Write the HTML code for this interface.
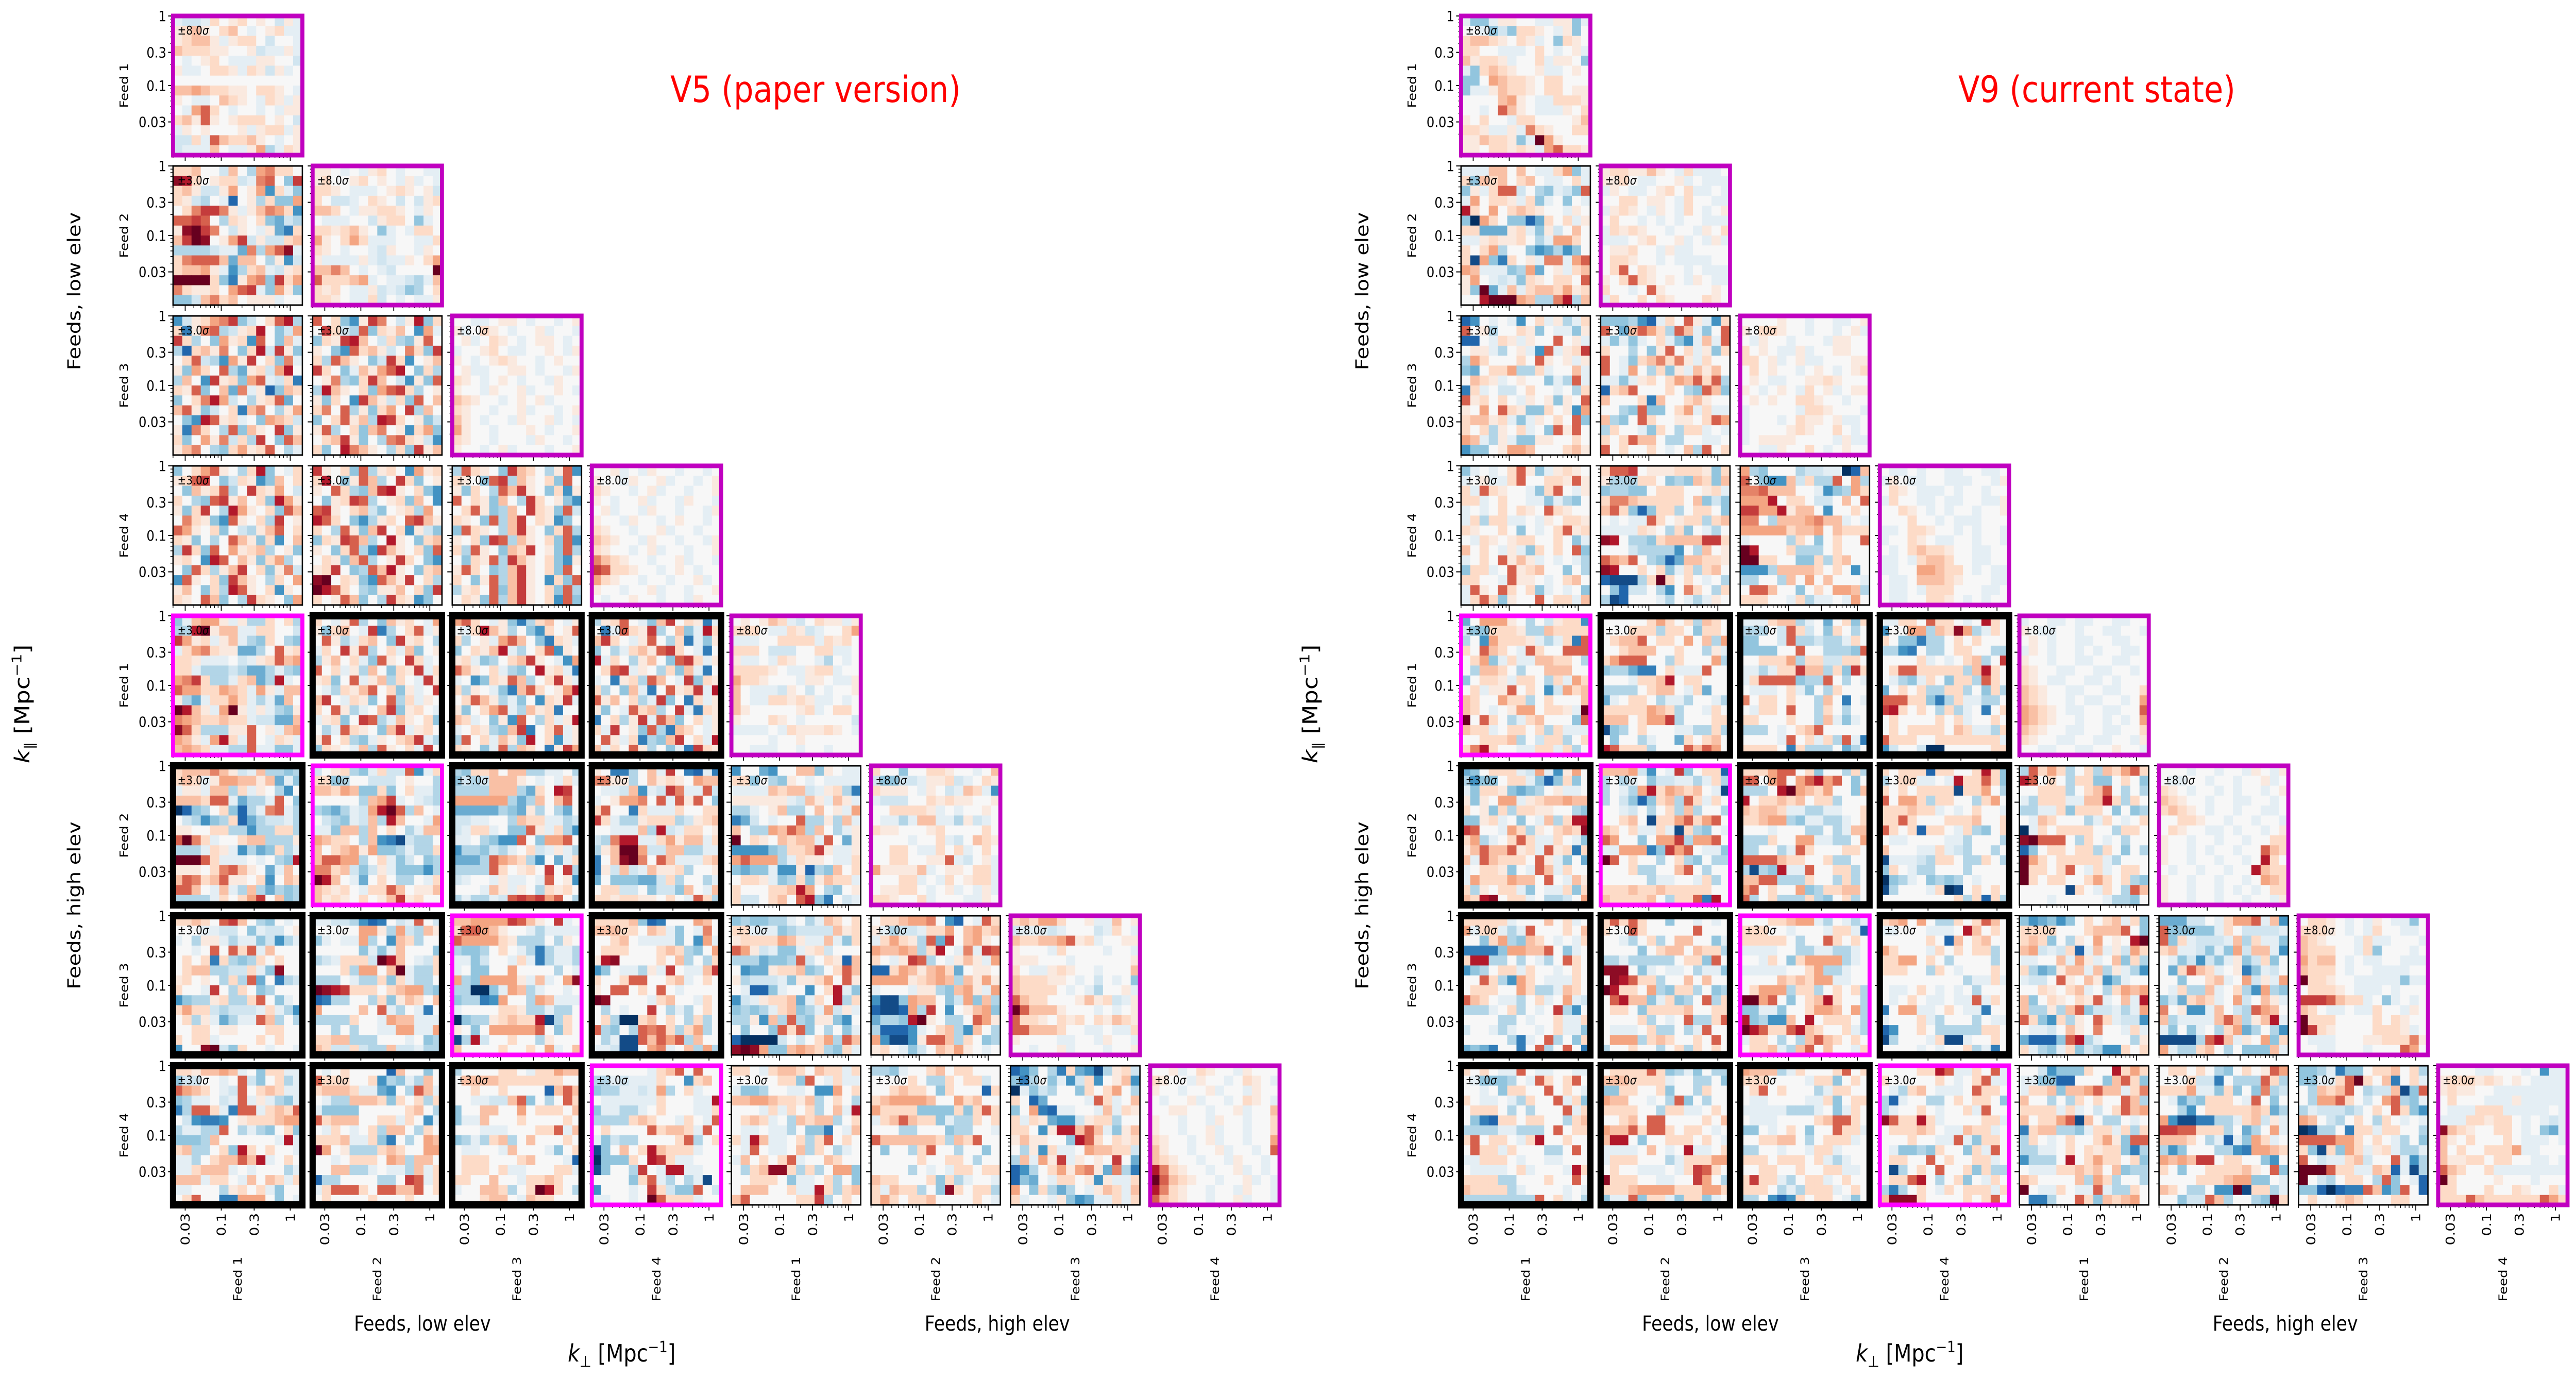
<!DOCTYPE html>
<html>
<head>
<meta charset="utf-8">
<style>
  html, body { margin: 0; padding: 0; background: #ffffff; width: 100%; height: 100%; overflow: hidden; }
  svg { display: block; width: 100vw; height: 100vh; font-family: "DejaVu Sans", "Liberation Sans", sans-serif; }
</style>
</head>
<body>
<svg id="chart" xmlns="http://www.w3.org/2000/svg" viewBox="0 0 5776 2672" preserveAspectRatio="none">
  <rect x="0" y="0" width="5776" height="2672" fill="#ffffff"/>
  <g id="grids"></g>

  <text x="1503" y="198" font-size="70" fill="#ff0000">V5 (paper version)</text>
  <text x="4391" y="198" font-size="70" fill="#ff0000">V9 (current state)</text>

  <text transform="translate(180,565) rotate(-90)" text-anchor="middle" font-size="40">Feeds, low elev</text>
  <text transform="translate(180,1757) rotate(-90)" text-anchor="middle" font-size="40">Feeds, high elev</text>
  <text transform="translate(66,1366) rotate(-90)" text-anchor="middle" font-size="46"><tspan font-style="italic">k</tspan><tspan font-size="30" dy="10">∥</tspan><tspan dy="-10"> [Mpc</tspan><tspan font-size="30" dy="-18">−1</tspan><tspan dy="18">]</tspan></text>
  <text x="947" y="2582" text-anchor="middle" font-size="40">Feeds, low elev</text>
  <text x="2236" y="2582" text-anchor="middle" font-size="40">Feeds, high elev</text>
  <text x="1394" y="2642" text-anchor="middle" font-size="46"><tspan font-style="italic">k</tspan><tspan font-size="30" dy="10">⊥</tspan><tspan dy="-10"> [Mpc</tspan><tspan font-size="30" dy="-18">−1</tspan><tspan dy="18">]</tspan></text>

  <text transform="translate(3068,565) rotate(-90)" text-anchor="middle" font-size="40">Feeds, low elev</text>
  <text transform="translate(3068,1757) rotate(-90)" text-anchor="middle" font-size="40">Feeds, high elev</text>
  <text transform="translate(2954,1366) rotate(-90)" text-anchor="middle" font-size="46"><tspan font-style="italic">k</tspan><tspan font-size="30" dy="10">∥</tspan><tspan dy="-10"> [Mpc</tspan><tspan font-size="30" dy="-18">−1</tspan><tspan dy="18">]</tspan></text>
  <text x="3835" y="2582" text-anchor="middle" font-size="40">Feeds, low elev</text>
  <text x="5124" y="2582" text-anchor="middle" font-size="40">Feeds, high elev</text>
  <text x="4282" y="2642" text-anchor="middle" font-size="46"><tspan font-style="italic">k</tspan><tspan font-size="30" dy="10">⊥</tspan><tspan dy="-10"> [Mpc</tspan><tspan font-size="30" dy="-18">−1</tspan><tspan dy="18">]</tspan></text>
</svg>

<script>
// ---- chart data ----
const feedNames = ['Feed 1', 'Feed 2', 'Feed 3', 'Feed 4', 'Feed 1', 'Feed 2', 'Feed 3', 'Feed 4'];
const xTickValues = [0.03, 0.1, 0.3, 1];
const xTickLabels = ['0.03', '0.1', '0.3', '1'];
const yTickValues = [0.03, 0.1, 0.3, 1];
const yTickLabels = ['0.03', '0.1', '0.3', '1'];
const minorTickValues = [0.02, 0.04, 0.05, 0.06, 0.07, 0.08, 0.09, 0.2, 0.4, 0.5, 0.6, 0.7, 0.8, 0.9];
const sigmaDiag = '±8.0';
const sigmaOff = '±3.0';
const gridOffsets = [0, 2888];
// Cell values per panel: a = -1 (deep blue) ... k = 0 (white) ... u = +1 (deep red); 14 rows x 14 columns, top row first.
// Panel order: (0,0),(1,0),(1,1),(2,0),(2,1),(2,2),(3,0)...(7,7)
const panelsV5 = [
"jiijmklmklkilj lmnlkmnkjklmjj lmnnljlmmkikkj nmmmllkklijjlj kjklmkjjjllkki ljjkmmljmlilj k nnonmmllkmmlkj lkjjknmlkjmljl kjoqmkjkkjkjll mnlqlklmmmklki jlklkkkljlmmjl iimjqnmmnlkjkl ijjjnkjjlohjml jkgjnjjjkllllo",
"mmnkkinkhopmmk tsmklmmijpqkgr mnliilokloemjg mlihkjcklhmggo kmprrpljlnpome qqrqkhmlkmgfih lturpkilkjlfdm nrutkloriliimn hhhhijjfphoqtj mpqqqnfnnkhlei mnnoljehmnjilm uuuumgdlopgrmo pmllmkoqrjgolg gginpmnklllj k",
"llkjkjlmkjkkjj lmkklmklkjljkj mmlkjjjklmlkli mkiijkmlkikilm nnmkjllmmlkjlk kjjjkkilmmkgjk mmlmnlkgjkjmmk olkmomjjjkkjjm mlkjkkjilkkjlk ljjjjljijjlkmo nnpnkjkjikkkku qmmmnojkjjihjn mlmkjjlijighkm mmlkjjmikjkjjl",
"eilmoprgikmqsh mdlpqhilmskgio rmhkgolmeqkgnj hcmnlpkgmsirlg kmqiheolrkmgpj lgomkqhflmiosk hnkerlmgoqjimd mlqgknfpjlcgnm gkmpsoikhlmqfk nqlgikmdnpkhlo kgesqlmjkgonmi ldpmkhqgnlkrgl mgkolpimhrkgqn lnpkhgmolmqkhj",
"qkmgelrpkilsgm krmihqgmlnkeoj gmlrsnkimhglqk lkgeqmnlikpmgr mhqnlkgirmekln rmkgjnloqskgmh klphgmrnkielgq hsnlkmgoqrmhkl lgmkernlimgqkn mpkqhlgmokrhnk gkmqlnhsrmklgi lqhkmgnpklemog kmnrlgkhpqmlie mgkspnlkhmgrln",
"kkjjkllkjkkjkl ljkmlkjkkljkkj kljkmlkjkllkjk jkklmkjjkklkjl lkjklmlkkjklkk kljjkkllkjkkjl mlkjklkjkkjlkk lkkjlkkljkklkj nmlkkjklkljkkk mlkkjkkljkkjkl nlkjkkjlkkljkj olkkjkkklkjkkl mlkkjkkkjlkkjk lkkjkljkkkjkkl",
"gkmoqlkhmsgkjm lmqrkgimlegnkm kgnlmqhkrmloki mkhgqrlnkmgsol lgmrkhsolkmgqn kpmlgeqlkmhrkl qolkmgkihlnqkm mlgkhkqnlgmekn hrmgqkolmnhklg lmkesqknlgmohk kgqmhlnrkmglpi eqlkmgrnlkhmko lnkgmhsqlkmelk mlkqngkhrmlkgo",
"rlkmgqhlmkeolm mskglqnhkrmgkl lkqmhgnrslkmge kglmrqhklmgnke qrlkmnigklmhok sqmkgehlmkqrnl mkhqlgnrkmelig gmlrqnhkslkgmn lkgmqhernlkmgq kmlgnqhklrmkge lmrkghqnslkgmn tukmlgeqnlrkmh usqmkhgllnkmgr mklqngkhrmlegk",
"hqmlkgrnmkhlqe mlkgqrhnlkmgqk lgmkhqnrlkgmel qkmlgnkhrmklge kmqlghnkrmlgqi mlkgqhnrkmlegk gqmlkhnrlkgmqh lkmgrqhnlkmgqe mhqlkgnmrklgqh kgmlqhrnlkmgel lqmkghnrlkmgqk mkglqhnrlkemgq hlmkqgnrlkmgqh kmlgqhnrlkmeqg",
"kkljkjlkkjkkjk lkkjlkkljkkjkl mlkkjkljkkjkkl lkjkkljkkjlkkj kljkkjlkkjkkjl lkkjlkkjklkkjk mlkkjkkljkkjkk nmlkkjlkkjkkjl mlkkjkljkkjkkl pnmlkkjkkljkkj rqmmlkkjklkjkk omlkkjkkjkkljk lkkjkkljkkjkkl kjkklkkjkkjlkk",
"gjnooljlhhmkmh hhsulnnjjmmkki rolmjlnjhgmkhg jmopmllffhkqlm mmljjjkijlmqno mmjhhhihffhjhg oprmhhjmnfhsjk qoommonmjoljnn lhfjmmomjhjfnk usnljouljljhgl ponmmnmmjiiffn tqmhhhllqkljno onljosmjqkjmlj nonmjjhhqjjggj",
"mkjlqhkgnlmkjo lgmnkjrdhkmqjl kqlhjmnkgrlmkh jmkrlqhkmjngkl hlnkmjgqlkrmjk qkmjlhnkgmlrjm lmgkqjlnhmkjrl kjhmlnqkmgljkr nrkjmlgkqhmjlk mkqlhjknrglmkj jlmgkrqhjnlkmg khjqmlkgnrjlmk lqkmhgjlkmnrjh gmlkjnhqlkmjrk",
"oqmkjlgdhmnkjl kjmsnlhkgemklq mhkljoqnkgdmlj gkmlnsjhkmqelk lmjghkmnrlkjeo qnlkmjhgkslmjd jkegmlqnhkmrlj mhlkjgdnqmklos kmqnlhjgkemlrj lgkmoqjhnlmdkk nmjkgleqkhmjls jkmlhgnrdkmqjl hqkmjnlgskmejl mlkgjqhnmkdlro",
"hlmqkjgnrkmldj kdjqmlrhkngjsm nrmkjlqkhmdjgl gkhjmnlqrmkjdk sjmkhlnkgqrmjl kmqrjlkhmgnjdk jkdlmhqnkjrgml mhkgnjdkqlmrjs qlnkmhjrgkdmjl lgkjqmnhkrjdml dkmhlrjqngkmjl mjrklgqhdnmkjl kqljmdhgnrkmjs njmkqlhkgjdrml",
"klklnmjikmlljl mmmkjjmlijkkmo jjjkkmmmmjmlmk mmmkiiikkmmjjk ljjkjmlkkjhkjk mmmmlkjjlmmjkk ommlkkkjllkjjl nkjjjilkikjkkl nkjjmmlmljjkjk nlkkkkklmjkmmk lkkkmlkjkkkkki jjjjkjmlllmlkj kkkkjkklkkkkkk kkjjjkkjkkjkkk",
"mnnnpnlijnhhgh mnmjloonnlnfjg jlljnnhmjlkhek nnnmqqjfhhjqkg acghkmgchjpqjh kiheghmcfhiijh llkkmmhhehhmmh qupmjkkmnnhhhl hhhjmljehfgmhj uuuqmjjjkjkhgs lllkmpqnlkfjnk nqpmnqllkmeknm qqnkjnjhnhfhgh hhhhjmkmorkngh",
"iklmhgjmiiqejm mmghkkiiiklkkh nnmonggmgkmjjh kkkkkhnorjkjih hgfhjiosuqhnkj kihgjinhsnkkjo jjgnnhnkmkhjnn onmmkhnedbihhk nkmnologghjhhm nqqoohkmjgikgh ppmnigiljgggeh usnkjfkmkhhkjm nmlmkjmmqnklln nlmlkmklnrlmkk",
"hgmmnknnhhjjkh gihinnnlkjkjmj hhhhnnnhfmksrk oooooohfhnknqk fffffhgflhkhfk iijjkkhnmmjjhi ijmmjkggqljmhe jjkhgeeqkgooqk ehhgihjkmijljh fffhqonmhekfjm hhhhqmklmkrkrh ijkkjljjkjqkle kkkjnljlkhmlmk hjhhjiqrqroqkh",
"lkddhknjrkdcjd ppllhknlmlkonn kjjinejirpjjqi jkloopkqjqlqkg mqkkdmjjjmkkmm rmjhhlmmmhilmn kkjjjnhsijmmkl ihpssjjmolnnjm hlnuuoiinnhhjj dkntupkqnjjjmn dlinijnllmhkkl fkgggffimhkkhj kmmiikgiignkjn mmlmmllkmkjqmh",
"ekkfekknnglkjj mmgkhglkjkjjjj jjjjnmnnijlmhd lllllljinljnlj hhjklnhhknkljo dfikjkkqhhlhnj nkhhonqohnkhjl ukmlknmnnjqkfl eeeeghmmnrljjl oqooohjmllkjjm gfggjeelchgnkm kmmljghmglnmmj mkkkmmnsokhgkl miikmnkqsgdkij",
"mkkgkkmmlkkjkn iggiijllmijkml mlllkjlkijnmje jiiikkmlmllkkl kkmmmmljkjkklk kjjhjnnjjhlijk mllkkklmkkkkmk kkkkjkkmjiknml kkmmkjjmkmjkmk kkmmkkllqjiklj ollllnjkllkmmj kkkmmjkjmklmmj kllmmkjkljkjlj mmlkkmjkkkjjlk",
"mmnmkqrnkhgkjk kkkjjiikgjiikl jkhlljhjjgiehj kkjkqkqmqjnkkk kmkmdmhghmkmkk kmnnhhiimjgtkk lmklkhmhqfkdhi mkkjrkhmkghkkk eghhlmhhmqkgjk mommihiiijmjhe kmhljfhjjqnhkh kkmmkllkkkmmkk mkmmjkkkkmkmkk ekktuigmkkjkkj",
"jjiihecdkijqki kkkkkoolhoihnl gjkjjohkenmhkk kkkkkgjgjnkkkg hijmmmiusnkjim kkkmhooknujhhm hhhkjhhmgmjhhk utsrmmmkmnoohg cdhhkkhmglnmkn okkkknkqjhkjdk hhhhmkkjonnjjj kkhkhkkjjoojjo mmnnhhhkkkjkgh nmiimihhniijhh",
"nnoooorqnlkrjk mqqonlkkjhjjjj qoooomlhhhkhlk hgghkmkjhdhjjh jjgikkjmjdhjjh jkggkkokkkkhkj ohgooooljnjkot hhaagjonhjkkjk ghhdeokkhonjjj jkkkkmmlhhjhhk aghhlmnmmsbhmk lkgkoooooqkgmk bhsikkmkkhlkkk nkkkkmkkmkojkn",
"mmmmngcdkkkonk nnnmmknmjgkjpk kkmnkjjjjgkeoj kmmmkkkmnmhgko lstkkkkmknhkhm egkjjhljrkjjnr mkkmqqkkmnjkmk lkqqkmkqkjkkkk utkkkkjmnkkjmk khkjkkrkhjhkmk kmhaamnkmkhmhk qhgkhqpqmhmohk khjbbqnqoqhnkk jjibbkopjknhoh",
"ghgghhjkhjnmkm mmjjjghiiiinlm lmmmmonljjnjgm qolijggjlmikkk hhhfgghqikmlcn kefflmmnghkmqn lhiiijgllmokql kjccgjkkekmsjg eijlmmnfjmkshm ghghjmnghjoilj hhlenhqhgllgek kgkkgqmqgkhkgj caaaaikikmohqn tutoggnonmhgmj",
"kmmnoopkeckjqm ljhiijmmoknomn jmomlhqfrknolk onnonhmskjpjrq mkjlrqhkjlnljo ccmonlnomfkllk oooolmnonhnlol jkkkjllhgnoljo ebbgonnkgiognh cbbcohrkeklnog fhhgsulkhhkqol hcccejkmnhenkh oebbelqqnhmkgh lmkjgiknmolkjk",
"mnmoomkkljjnkl ijjjijkkkijmkj nmmnnoqlmjkkll lkkkjmkkkkjkkj lllkkkjkkkkkkl mkjjlmlkkjkkkn nmmmllkjkikjkg nmmmmkjkjhkklj qnmmkkklnlmijl uqnnnlkkkjkjkl qmmlkmlmkmlnml qqnnnmkkjjkjjm lkkkkjjkkjlkkj kkjkkljkkkjkkl",
"mmlnnonjkgmmjj giikkjkqigkmhj qonmkjiqkmnmjj ghjjkijqjljhgj dhqqmjdqqjmnmq kieddeklmmmnoo hjjhhqkhjhgkmg ggghnkkkkkkjsj mnhhkmgsmkmkkj jjhkmnnqnsjkmk jjmnnnjkjkkkhj nnnjmmkjnknmjm jjkkkhlmkmjgkk kmqkkddoookgkj",
"kjkmkkkkcnkkgk qmmmkkmehgjhnk mnnnmjjfekhqnj kjhhnnnmgmkmhm jggggkkkkkmnkh qmnnnkkmmjmkej kjmkjkmhnnkhmk mmmnjjmgdkhkon uoklhhhmnmkkoo kkjkmmmkonhnnk kknnhhjkjjhnjm chhkkkkhhkrqjm jmqqqmkqqnnqkm kmkkkkmkkkmkkk",
"hkkkkmmkjmmonn knnnnmmmmmmmkk kkmkkmkkkkcnqn kkjjiinqgkhkqm gkknnkkokmmmkn gjjnkkkmkkkkmk kkkjjjkkkmmqjn ghjhmnhknkkkmk kjjkkjnkkkjgkm kmmmkkkmnkkkjc kmmmkmjjkkkmmj mmkknkkjmmnmkk jkknnmhkmusmkh kkkmnnkjnmmkkk",
"kkkkkkjmnqkqkk hhjijjjmkkemnk ghhjjijohkmjkk kjjjjjjmkkkjjs gjjhhjkmkkkjjm hhhhmnmkkjmkjq kmkkkkqmnnmjqk jgihhkkkkmqhkm bgknkmsnmmmjkk agggmksrmjjkkk bgkkhrkjssjjkk kkkkgmqjhkhjbk ekkkjkrmiggqki jjkkjkuqmmmjkk",
"mmkjmnnmknmmjm kkkkkmmgqkjmjj jgghkkjjkeeokm nnoonmmlnhkmkh kkkjmjmkmhknjs kmnmjkhnmnnhkm kjjkjjhkggdkjn mjsnjjkmhmqkmk kjqkjjknhmkhjk jnkmkmqjkknmkk khmnttmhmhkoog kkmmmkgjjkmhkg knnnkkmjjsmhmn nqkkkkkmmrhkmk",
"hhgjkkmnkmmkkk kkkkmkhhmkmmik kkmnmmkgmkkkcm mnoooonkkomnkk ommmmggggmgmqm jmnqnmmgjhhmkm kkkhhkkkghhkkj qnnnnnnmhnmqkk kgkkhmqkkhkkgk kkkkkmkkmmkhkk kkkkhkjkjmmkmm nmmkkkmgmhjkkj mjnmmhkgtmkmmh momkmmnkkkkmkj",
"cegkhdmfebhlmi gdhkgjeimeklne ajgihkkgmkmokh mkcfkkkkjqmjkn gkodcjjkkjnjml mjmlfeeilmmhkk mmkelssnqnjgln lnllkkgsqmkmlm khlemjjkonnmmi hnjolrjlklkrkf cehkmoloplfphd cgfkjmmkleljjm okgmhfhkjlnmjn mjkkjlgefjjmjm",
"kkljkmlkkjlkkk mlkkjlkkjkmlkj lkkjkkljkkjlkk kjkkljkkjkmlkj kkllkkjkkljkkn lkkjkkjlkkjkkm lkkjkkljkkjkkm mlkkjkljkkjkko nlkkjkkljkkjkq nmlkkjkkjlkkjk spmlkkjkkljkjk uqnmlkkjkkljkj spmlkkjkkjlkkj qnmlkkjkkljkkj"
];
const panelsV9 = [
"jggjllkkjjllgj kkjgigmmlkjlgk mnnmlkmljkgmlk mmkkjjjkmkjklj nlmmljkkmjllkg jgmnmlkkljjklk ggkonmmlkmmkkk gjjlnmmlkmmkll kkkknolkjjmmml kkjkqnlkjjjlkm lkmkkjmmkkkkln mmljjljpmlkkmm llnmmlgjuolkkk llkmmlmljoqmml qlmmmmqqslkkjk",
"jjjnnknkjjmogj mgnmnkmnkjjkmj gljmqqikhgjigq jokmmljmgjkgkj smkokmnmlkkjlk gaomkggcfmkmjl mmffflmjgliknk jjlmllmkhjoomk mkmohkkgefhegk mbogdmkljppjoq onjjjghofkljmn lokjijgmlkmmkq lgufjnjmnnmolm kksuuuonhhpshn",
"lmmllnlkjmjjjk llmkjjkkljkjjj jlkjjklmkmjjkj kkmmkllkjmkkjj jlmlkjlkjmkjkl kmkkjkjkjkkjjj jmlmlkkjkkjlkm jjjklmkkljkjlj kllmkkjljjkkkk kmmlkkjkjjjjkk kmqkmlkkkjkjjj lkmqmlklkjlkjj mkkjkqlkkkkklk jmkkmkmlkkkmlk qumoqkkjjkkljl",
"cekjkjekmjlhjm qklhkkmlgkjjgl cckjmljlkkqklj klljhkljeqjlmr homkkkmkqlkljl gfkmmohhmjkknj knmljklkkgjhqj dmjkiikmkkjkhm qlmkmkjlklglkq lkokqmlggmkleo mnnlmjgjlkmkqg mkmhlkmjkgqlqk onjhljggllkkmk eggkloonkkkmnl",
"ggghecjmkqljem qkfnqomhqnjgkq jgjgjkmjgejnjq mkkhkglqkmjlgm qkjgmnpmpljmkk qkjokhmgljnlnk jjgjlmkmonqmqh cmnqkkkmkhgqng nkkkmdnkkmnlkk kkhgqggkmojmjj nhgkqmkkllkmqo hmkkjgmkhmmjkj mkmqnnkhhkkjjk qkmkkmkjknhqkm",
"kkkklkkjkkjjkl lkmmlkkjkkjklj kjlkkjkkkjllkk mklkjjljkkllkk mmkljkljjkkkll kmklkkjklkjklm klkjjkkllmlkkk lkjklkjmkljkll klklkkmmlkkjkk jkkkkkjmmlkkkj jkkkjkmllkljjk jkkkklmlkkmkjk jkllllkkkkjljj kkjjlkkmkjklkk jljkjkjmlkmmlk",
"gjkjkmqlgjlmlk jkljjmqkkmmlql mjqmlkkjgmqkjl mmjkmkkjjgjhgk jkjkmkmlkqmlkk jmhmmjjkjlkmml mlkkmkgkjkmqlm kjmlklmmkkmkgj nkmkjljgmkmkqg jkmkqlnljkjkjh gmmjkqlmnkkgkh mmkkjqllkjkmnk jqlkqmkmgjkjkg jmqmglkkqkmmjn kjkmgjmlmkkkkj",
"mqqrklllmmmlgm lhhhmmkghgnmgn ghhggkmmmkklmj mppnmmmmmkngig nqmgcgmmhkmmkg kjkjjqmklmmhmn jjjjmlkhmgkjhk tskhhgmnnnnrrm kkkihhhhekhnkl qonqkhgcfnnmml tskkmkmgjmhmnk cbbbhmumkmkjkh kgciikhekpmkhm hbckkkjhkjhjlk",
"ohgkkkhiijjacn qkgeenimhhqkoh ppqnnnkkjeghom oooskmmkiiknkq rrooslnnkekkmk ppkhnnnopnnjkj ooooomnnoknmmm jkkkkhmkgkmkkq uskkkmhhhkmkkk uummkkggmhmnkk eeehnnnnmkmkek hhkkhnkoknkkkj kqqnkkgkmkoonh mmmkkjmhjjkjok",
"kjjkjkkjjkkjjk jlkjjkkjjjkkjl kmlkjjjkjkkjkk jmkkjjkjjkkjjl kkmlkjkjkkjkkl kkkmkkjkjjjkkk jjkmmlkkjkjkkj jkkmlkjjkkjkkj kjkmnmmlkkjjkk jjkjmnnmkkjjkk jjkkoonmmkjkjj kjjknnnmlkkkjj kjjkjmmmkkkjjk kjjkkmmlkjkjkk",
"fkooolkhkilmme iggmmmlhhnmmmm hkeommmljhjmdq mkqnmkjqmkkqqq kmogjmjjnnmmkh khnnmkhkknnnkk gkmmljmmkhmjom kmjllqkmkeiomn nmkkommhkmkkkn nmkjklookmmlju ukqmkhjmnkkkgq nmmjkmmkmhmjjj kkmmmnhkimmhkm mpsmkkjjmmjmhk",
"kkkkkmomkmhnmk kkkmmmhmmkgmmk kmnnqkmmkoknho kkmnnnkkmkkhlj moqqqkkhmkkkoh ghhfddkmjjjqkk kkkjmmnskmmkkk hhhhkmnnkjmfkk fjkmmkhjjhkkjh mmmmmonmhkkjmk nnnkmoorhkkkmm bghkmkkkjjhhmh kgkkhjkkfmkmnk sqmmmhkkkqnqok",
"jjjmnnhjkfkmgm hhhkiqmikgmkhk ggkkiqhhihhjmk ggggkkqkkhhhgq kkmmmohmmiimmk jjhjmmrnnhmgrm jmqqqqghhqkhkj kjjjkmjgkhmkkk pkmmkmkkhnkdkj kjmmkqkkhmkhkk mmkkkmkkhnjgjk hhhkjkmnqkkkkk kkkkjqkmjmhqjd mmmmkdmhhhkfhk",
"jjmmkqmmkjksmk ekkoohnmtohjmk mkggdhhkmkmkkk hhedkhhkmmkkhh kkkkmjkjkmnhkr kmqqmmmmmhnsmk kjhgjmkgmmhqmk fkmkmhhmmhkgmh qqqmmgdhmjjhhk rsmkmkhmhjkdkm kmkkkkmkmjkkmk kmkmmmmknmjjhm qmmmkkmmmmmmmj eikkiaakkkkkmm",
"jkkjjkjjkkjjkk lkjjkkjkkjjkkj klkjkkjjkkjjkk jlkjkkjkjkkjjk lkkjkkjjkkjjkk mlkkjjkkjjkkjk mlkjjkkjjkjkkk nmlkkjjkkjjkkm nmlkkjkjjkkjko onmlkjjkkjjkkq onmlkkjkkjkjko nmlkkjjkkjjkkm mlkkjjkkjjkkjl kkjjkkjjkklkkj",
"fgkmmmjiojelo heggkmmjgcgmgkk jgmmlgfghkljjk lglkoojlmnnonn mklgmhmmllkkhg gglmjkgkjnhmss rqkkjomhlkmnmt mohjkmqmjjmkjg lnqnnqlmjqlmdm njqnmmmkqljgkf jkmmlgkjqnjmkk jommmonnkqkjnl mhlkmmjgkjjmgm nmstkmmjkhhiko",
"nnnoiekjrgkmmc hkhjkgiijjhjmh hkjhosmonmnkjb hkigcgmnhqmjmk kkjikhkmhnhkkh kkmnkbmmoqmoqk nmkmjjmjbmhgkj qokkgkoorhooqk jjooodgroqkjjg uqkmkkhkmhgkhh kkkmhhkknqkhkk kkkkkhjjkkjmhk mmmnmmnmmmmmkk nmmmmnkhmmqdsk",
"mmmoqqkmgkkhmh qqkoqkoqsoqkgk hhhksuonmokkgn skmmnmnkmmhkkk nmnnmjjhhjjkkm mmnoohgjjhhjkm kkkjkkkhhkhjnn hhhmkkoojjhhko hhkkhjqmkkkmmk qqqqnmmkkmhhkk hbhgsjjqkkmmhk nnqqhhhmkkhmhk oqkmkkoghmmnnk qhkmhhhmhgkmhk",
"mkmmmcmmkkmsmg hkmmjjkjsmmqmg mkmkmmmmbmmokh qkoomhmmkkhmok mmmnmmjkjkmkkj mmqmkkkmmmnkkm qmkmcmmkjmhgkm kjjkkkkjjhkkkh nkkkjjmjihkkhk bjjjihmmkhhmkh gmkjhhkkkhkkkk aghjkghghkjkkk bhkkkjmabkmkmk kkkkkkkkmhmcmh",
"hqmomhkmhnmoqm sqkmkhmmggkmkg kkmmmhkmnqkhkh jhmmmjjnnsmhmk hhjjmgmmmkgkgh kjnmkkkhjmkjkm ajmkmmmmkkhmmk tuqqqkhmkjkhkk cgkmmkmmhmkgkh uomkmmmmmjhkkk ummkmqkjmjkmmk umkmmkkmomkmhg kkkkkbmkjmkhqn kkkjkkkkkjhhgk",
"kkkjkkjkkjlkjl kjjkkjkkjkkljk mlkjkkjkjkkjkl nmlkkjkkjjkkjk mnmlkjkkjkkjjk kkmmlkkjkkjkkj kmlkkjjkjkkjkl lkkjkkjkkjkkmm lkkjkjkkjkkqnm lkkjkkjkkjksmk kjkkjkkjkksnmm lkkjkkjkkjkonm lkkjkkjkjkjkmm lkkjkkjkkjkkjl",
"mmmmmjkkknkmjk ojmmjhjqkkkmkn kkgmohgnmkjkjm ddddgoonnqkgjk msshhkhkjhkqmk eghkmmjmkkjkmk kkqmheomkjjjmk kmmmkkomhhjnmk qnmkjjhkmjkoji hhhjkmhkjkrhek kkkkhhkjkkmjjm ikkjhjkkjkmjjg kkkkkhdjkqhkgm fgfdkkdkqhkqkd",
"mqmqmkkgkkjkjk mkkqmkkkkkqkkk kkjhkmhknnkkgj kkkkgkmnnknmmh hhjhhhhhkmmgqk tttkgjkjjkhjjg ktsqmmhkknknkk usmmkohgmmhkgh kqsnngjmghkqhm kmmkgmmmmnkkmm kkkkmhkjkqhhmq kjjjkmhhkhjqkk kooohmnmkkmkqk hkkmkkhkmhmkmk",
"kkkmmnoojhkjhj mmmkkjkkkjmmjc mmmmmkhkkqmkmk jjjjkkhhjjhhjk kkjmkgmoooohjk jjjjjkkmohhjkk kkkknmnmoojjkk kmooohmmhkmkmh uuoqkgkmnsmkkh ggjjgkkmoonkoh sgheenkskmmmkh usqmmqsnmkkmjh jmmkhkhnqnmkmk kmmnjhnqknkkjm",
"mnokokhhmkmqnk jjkkkjjjksnkmk kkkkkmkcnkmnkk omkkkjmkmkmmhk mmookmkhkkkkhk mmmkkhmkjkkkmk kkkkkkkkkhjjmj kjjkmkjkjkhkkk kjkmkjjkjjqjmk dkoojjkmkjjdkk jkkkmjhkkkhkjj cekkmkhhhhhmmk bhkkkjmbbjkkmk kkkkjkjkkmhjdk",
"gefgegkmkmnjmg mmmmkkkmnnnqkg mnmgkhlkoklksu noijimcjnjliom jjkknjoljkngmh mhfglnnjnhljhe jiikqlknlegjkk kkmlkmnjkhmono ngkmlkmlqjknjs nhhlhnqgiijhjo qmgemhlkqmjiie kjjiknlkpkkjmj fcccgqshjkkkhl mjhgjmgiheemkm",
"fffiikjmooqjne qgggggjmkiiiij qgmjiiijnhmjjg mnjjigjgoinnje kjgieigjlgimgk kfmqnmjkldgjik kkgkkmnjkoiljo kjmhhnjkmheohg gifmnmjkoiknlj pkleejnkihqonk nhjjjjnqnhlnsj jgkgjkhmofhkhe bbbbhqsnjlkogm ojhhmnkhkgggnj",
"kmmlkjkjlkjjgk mmmlkjkjmkkjjk nmlkkkjmjjkkkj nmmmkkjmgkkkjk omnnkjkjjkkjjj nmmmkjkkjjjjkk ummlkkjjjjjgjj kmmmlkjjjkjkkk rrrqnmmjkgjkjk nmkjjkjjmkkjlk ummmkkkkmkmlkk urmlkkkkmmmljk kjjjkkkllmmmpl kkjjkkkjkkkqok",
"mkmkjjqkjjkkjj kjggghkjqmkmqk kkjkgmmkkqkmkj mkjjkjhmkkqjmg kmmmkhkhkkkqjm kgdcmmkmmkkhmn hhhhjjhhhkqkmm mqkmmkjmskkmkk kqmmjmkkkhhkqk jjmmmkjkkjjkkk kjjjjkmjkkkjsm mmmmhhkkkmkkqk nmmmmhjkkkkjkj hhhhhhhhqkmjkh",
"kmmmmqmghjgkhh nnnmmmmjkkhhkg ggmmkkmgkkhmkk onnkkjkhqgkhkk mmmmkkhmmjjkmk kkmnkqqkkkkmkn onnqmqqmkmmkjk nsskgkkmmmkmkj jjjjknkjksjjkm jmmmkkkhjmmmoo kmkkjjjkjmrqmk tmmmkkjjkkrokh mmmnoooommmoom gjjqgmmjgmmgjk",
"onnnhjmkkkmqkm mmmkkkkjmmgkmk kmqkmkkkhjmmkk kjjkkkkjjmgkmm jjjjjhhhjkgjmk kjjjkkkkmnqqmk ggkjkmkgkkqmmj kkmmnnkhkmmmjk hhkkjkkjmmjkkk mmmkmmmkmjhjkk kkmmkkmkkmmjjk mrmmjhkmmjkmkk mmmkhjhmmmjkmk hhkecemkmmkjgk",
"kkkkmmsqjjmkqj mkkkkkmkjkmqjj kjhmnkjjjkqmmk hcjkkhhkmkmmkg hjkkmkjkkmjqkk tqmmsmjkkkkmmj kmmmnmkjjnmmjk kkkmkkjjqjgmmk kjgghgmkkgmjqk kmmkkqkmkkmmjk kbhkmkqkkmgmhh kmmqskhkmgkjmk hdhkmkjmkmmmjm ntttmkkkkmkmqk",
"kkiegggmkksmom jjggcckkkgnqmg jmmngnnoqnnjmp nkkhkhmkmkkqnh mmmmjmjkikmqno nkmmoqbnkhhkjk dmnnhhgjmmjmhm hmkjkmkkmolgqq hhjjkmkmlmmgdh ehhhkskmommkmg kjjjmmnmnknghh nmkkkknhomhkkh ukjjmkjjqjhhmk kddhkkqmgnmnok",
"kmmkmkhgkmklqo kkkmiidkhhhqmh mmmojjgmgkgphi kjfhgmmmkjqkgk kkhekmmmmmnmfh oebbddhhjmnilj rrqqmmmhkfhkoj nnnmkhjcjgomjk hegkkkhhedoonm ononrrkmmkkgek mkgkkmmmmnlkqg kkkkmmmnooggkj nmkhhkeeubmmhj kkgiiqnhkkhgum",
"gghjdggkmmnkmh ggjjmqumkndkmj khnmnqkhiinbgq khooqmkikoqhgj hjiiihikmkqmge onkihkmkhmkjkj abhhkdmmjmmkkh qqqqoomkmkjhkg mgbmgomjlmjhhj qkijjmnikkqjeh uuuqmmjjnmcjbh ukihkmmkhqgkjc ggcacddqnegqkc kmkkmnmkkkmmkk",
"kkkkjjkkkjkejj lmmmlmlklkjjjj lmllkkjjjjjjjj kmkkkjjjljjjjj kjjjmmmjjjjjkj jjjmmlmmkjkjij tnmlkkmmkjkgfj nlkmkkkmkjjjkj nkmkkmmmojjkkk nllmmkmmkkjjkj qnmkkmjjjjjjjj umkkkklkkkjkkk mmkkkmkkmlkkmj mmmqnmmmmmmqom"
];

// ---- layout & scales ----
const NS = 'http://www.w3.org/2000/svg';
const AX0 = 388, AY0 = 31, COL_STEP = 313, ROW_STEP = 291, AW = 290, AH = 270, NC = 14;
const XMIN = Math.log10(0.02), XMAX = Math.log10(1.5), YMIN = Math.log10(0.01), YMAX = 0;
function xScale(k, x0) { return x0 + (Math.log10(k) - XMIN) / (XMAX - XMIN) * AW; }
function yScale(k, y0) { return y0 + (YMAX - Math.log10(k)) / (YMAX - YMIN) * AH; }
function cellX(c, x0) { return x0 + c * AW / NC; }
function cellY(r, y0) { return y0 + r * AH / NC; }

const anchors = ['#053061','#2166ac','#4393c3','#92c5de','#d1e5f0','#f7f7f7','#fddbc7','#f4a582','#d6604d','#b2182b','#67001f'];
function hex2rgb(h) { return [parseInt(h.substr(1,2),16), parseInt(h.substr(3,2),16), parseInt(h.substr(5,2),16)]; }
const anchorRGB = anchors.map(hex2rgb);
function colorFor(v) {
  let t = (Math.max(-1, Math.min(1, v)) + 1) / 2 * (anchors.length - 1);
  let i = Math.min(anchors.length - 2, Math.floor(t)), f = t - i;
  const a = anchorRGB[i], b = anchorRGB[i + 1];
  return 'rgb(' + a.map((x, n) => Math.round(x + (b[n] - x) * f)).join(',') + ')';
}
function decode(s) {
  const rows = s.trim().split(/\s+/);
  const vals = [];
  for (let r = 0; r < NC; r++) {
    const row = (rows[r] || '').replace(/[^a-u]/g, '');
    for (let c = 0; c < NC; c++) {
      const ch = row.charAt(c) || 'k';
      vals.push((ch.charCodeAt(0) - 107) / 10);
    }
  }
  return vals;
}
function mk(tag, attrs, parent) {
  const e = document.createElementNS(NS, tag);
  for (const k in attrs) e.setAttribute(k, attrs[k]);
  parent.appendChild(e);
  return e;
}

const root = document.getElementById('grids');
[panelsV5, panelsV9].forEach(function (panels, g) {
  const gx = gridOffsets[g];
  const gridG = mk('g', {}, root);
  
  
  let p = 0;
  for (let i = 0; i < 8; i++) {
    for (let j = 0; j <= i; j++) {
      const x0 = AX0 + gx + COL_STEP * j, y0 = AY0 + ROW_STEP * i;
      const pg = mk('g', {}, gridG);
      
      
      const vals = decode(panels[p] || '');
      for (let r = 0; r < NC; r++) {
        for (let c = 0; c < NC; c++) {
          const rc = mk('rect', { x: cellX(c, x0).toFixed(2), y: cellY(r, y0).toFixed(2), width: (AW / NC + 0.6).toFixed(2), height: (AH / NC + 0.6).toFixed(2), fill: colorFor(vals[r * NC + c]) }, pg);
          
          
        }
      }
      xTickValues.forEach(function (v) {
        const x = xScale(v, x0);
        const t = mk('line', { x1: x, x2: x, y1: y0 + AH, y2: y0 + AH + 11, stroke: '#000', 'stroke-width': 2 }, pg);
        
        
      });
      yTickValues.forEach(function (v) {
        const y = yScale(v, y0);
        const t = mk('line', { x1: x0, x2: x0 - 11, y1: y, y2: y, stroke: '#000', 'stroke-width': 2 }, pg);
        
        
      });
      minorTickValues.forEach(function (v) {
        const x = xScale(v, x0);
        const t = mk('line', { x1: x, x2: x, y1: y0 + AH, y2: y0 + AH + 6, stroke: '#000', 'stroke-width': 1.5 }, pg);
        
        
        const y = yScale(v, y0);
        const t2 = mk('line', { x1: x0, x2: x0 - 6, y1: y, y2: y, stroke: '#000', 'stroke-width': 1.5 }, pg);
        
        
      });
      let stroke = '#000', sw = 3;
      if (i === j) { stroke = '#c000c0'; sw = 9; }
      else if (i >= 4 && j < 4) {
        if (j === i - 4) { stroke = '#ff00ff'; sw = 9; } else { stroke = '#000'; sw = 14; }
      }
      const sp = mk('rect', { x: x0, y: y0, width: AW, height: AH, fill: 'none', stroke: stroke, 'stroke-width': sw }, pg);
      
      
      const lab = mk('text', { x: x0 + 10, y: y0 + 36, 'font-size': 23 }, pg);
      lab.textContent = (i === j ? sigmaDiag : sigmaOff);
      const sig = mk('tspan', { 'font-style': 'italic' }, lab);
      sig.textContent = 'σ';
      
      
      if (j === 0) {
        yTickValues.forEach(function (v, n) {
          const tl = mk('text', { x: x0 - 15, y: yScale(v, y0) + 10, 'font-size': 28, 'text-anchor': 'end' }, pg);
          tl.textContent = yTickLabels[n];
          
          
        });
        const yl = mk('text', { transform: 'translate(' + (x0 - 101) + ',' + (y0 + AH / 2) + ') rotate(-90)', 'font-size': 26, 'text-anchor': 'middle' }, pg);
        yl.textContent = feedNames[i];
        
        
      }
      if (i === 7) {
        xTickValues.forEach(function (v, n) {
          const x = xScale(v, x0);
          const tl = mk('text', { transform: 'translate(' + (x + 10) + ',' + (y0 + AH + 16) + ') rotate(-90)', 'font-size': 28, 'text-anchor': 'end' }, pg);
          tl.textContent = xTickLabels[n];
          
          
        });
        const xl = mk('text', { transform: 'translate(' + (x0 + AW / 2 + 9) + ',' + (y0 + AH + 144) + ') rotate(-90)', 'font-size': 26, 'text-anchor': 'middle' }, pg);
        xl.textContent = feedNames[j];
        
        
      }
      p++;
    }
  }
});
</script>
</body>
</html>
